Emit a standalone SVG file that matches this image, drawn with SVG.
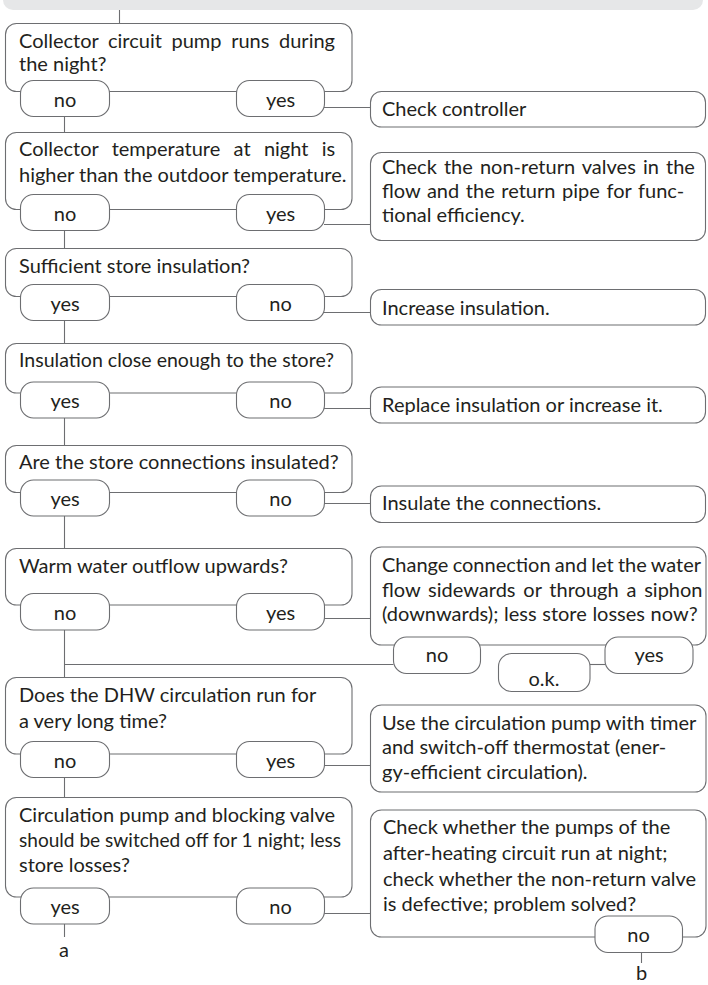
<svg xmlns="http://www.w3.org/2000/svg" width="708" height="985" viewBox="0 0 708 985">
<style>
.b{fill:#fff;stroke:#6d6e71;stroke-width:1.1}
.c{fill:none;stroke:#6d6e71;stroke-width:1.1}
text{font-family:Lato,"Liberation Sans",sans-serif;font-size:20px;fill:#231f20}
.m{text-anchor:middle}
</style>
<rect x="3" y="-15" width="700" height="25" rx="10" fill="#e6e7e8"/>
<g id="connectors">
<path class="c" d="M119.5 10V23.5"/>
<path class="c" d="M64.5 116V132.5"/>
<path class="c" d="M324 107.5H370.5"/>
<path class="c" d="M64.5 231V248.5"/>
<path class="c" d="M324 224.5H370.5"/>
<path class="c" d="M64.5 321V343.5"/>
<path class="c" d="M324 312.5H370.5"/>
<path class="c" d="M64.5 418V445.5"/>
<path class="c" d="M324 408.5H370.5"/>
<path class="c" d="M64.5 516V548.5"/>
<path class="c" d="M324 503.5H370.5"/>
<path class="c" d="M64.5 630V677.5"/>
<path class="c" d="M324 618.5H370.5"/>
<path class="c" d="M393.5 664.5H64.5"/>
<path class="c" d="M590 664.5H605"/>
<path class="c" d="M64.5 777V797.5"/>
<path class="c" d="M324 765.5H370.5"/>
<path class="c" d="M324 913.5H370.5"/>
<path class="c" d="M64.5 924V937"/>
<path class="c" d="M641.5 952V963"/>
</g>
<g id="q1">
<rect class="b" x="5.5" y="23.5" width="346.5" height="68" rx="11"/>
<text x="19" y="48" word-spacing="4.5">Collector circuit pump runs during</text>
<text x="19" y="70.7">the night?</text>
<rect class="b" x="20.5" y="80.5" width="89" height="36" rx="13"/>
<text class="m" x="65" y="106.5">no</text>
<rect class="b" x="236.5" y="80.5" width="88" height="36" rx="13"/>
<text class="m" x="280.5" y="106.5">yes</text>
</g>
<g id="a1">
<rect class="b" x="370.5" y="91.5" width="335" height="35.5" rx="11"/>
<text x="382" y="115.5">Check controller</text>
</g>
<g id="q2">
<rect class="b" x="5.5" y="132.5" width="346.5" height="77" rx="11"/>
<text x="19" y="156" word-spacing="8.2">Collector temperature at night is</text>
<text x="19" y="181.5">higher than the outdoor temperature.</text>
<rect class="b" x="20.5" y="194.5" width="89" height="36" rx="13"/>
<text class="m" x="65" y="220.5">no</text>
<rect class="b" x="236.5" y="194.5" width="88" height="36" rx="13"/>
<text class="m" x="280.5" y="220.5">yes</text>
</g>
<g id="a2">
<rect class="b" x="370.5" y="152.5" width="335" height="88" rx="11"/>
<text x="382" y="174" word-spacing="2">Check the non-return valves in the</text>
<text x="382" y="198" word-spacing="1.5">flow and the return pipe for func-</text>
<text x="382" y="222">tional efficiency.</text>
</g>
<g id="q3">
<rect class="b" x="5.5" y="248.5" width="346.5" height="48" rx="11"/>
<text x="19" y="273">Sufficient store insulation?</text>
<rect class="b" x="20.5" y="284.5" width="89" height="36" rx="13"/>
<text class="m" x="65" y="310.5">yes</text>
<rect class="b" x="236.5" y="284.5" width="88" height="36" rx="13"/>
<text class="m" x="280.5" y="310.5">no</text>
</g>
<g id="a3">
<rect class="b" x="370.5" y="289.5" width="335" height="35.5" rx="11"/>
<text x="382" y="315">Increase insulation.</text>
</g>
<g id="q4">
<rect class="b" x="5.5" y="343.5" width="346.5" height="49.5" rx="11"/>
<text x="19" y="367" textLength="315" lengthAdjust="spacingAndGlyphs">Insulation close enough to the store?</text>
<rect class="b" x="20.5" y="382" width="89" height="36" rx="13"/>
<text class="m" x="65" y="408">yes</text>
<rect class="b" x="236.5" y="382" width="88" height="36" rx="13"/>
<text class="m" x="280.5" y="408">no</text>
</g>
<g id="a4">
<rect class="b" x="370.5" y="387" width="335" height="36" rx="11"/>
<text x="382" y="411.5">Replace insulation or increase it.</text>
</g>
<g id="q5">
<rect class="b" x="5.5" y="445.5" width="346.5" height="47" rx="11"/>
<text x="19" y="469">Are the store connections insulated?</text>
<rect class="b" x="20.5" y="480" width="89" height="36" rx="13"/>
<text class="m" x="65" y="506">yes</text>
<rect class="b" x="236.5" y="480" width="88" height="36" rx="13"/>
<text class="m" x="280.5" y="506">no</text>
</g>
<g id="a5">
<rect class="b" x="370.5" y="486" width="335" height="36.5" rx="11"/>
<text x="382" y="510">Insulate the connections.</text>
</g>
<g id="q6">
<rect class="b" x="5.5" y="548.5" width="346.5" height="56.5" rx="11"/>
<text x="19" y="573">Warm water outflow upwards?</text>
<rect class="b" x="20.5" y="593.5" width="89" height="36.5" rx="13"/>
<text class="m" x="65" y="619.7">no</text>
<rect class="b" x="236.5" y="593.5" width="88" height="36.5" rx="13"/>
<text class="m" x="280.5" y="619.7">yes</text>
</g>
<g id="a6">
<rect class="b" x="370.5" y="547" width="335.5" height="98" rx="11"/>
<text x="382" y="572" word-spacing="-0.9">Change connection and let the water</text>
<text x="382" y="596.7" word-spacing="2.7">flow sidewards or through a siphon</text>
<text x="382" y="621" word-spacing="0.5">(downwards); less store losses now?</text>
<rect class="b" x="393.5" y="637" width="87" height="36.5" rx="13"/>
<text class="m" x="437" y="662">no</text>
<rect class="b" x="605" y="637" width="88" height="36.5" rx="13"/>
<text class="m" x="649" y="662">yes</text>
</g>
<g id="ok">
<rect class="b" x="498.5" y="653.5" width="91.5" height="38" rx="13"/>
<text class="m" x="544" y="686">o.k.</text>
</g>
<g id="q7">
<rect class="b" x="5.5" y="677.5" width="346.5" height="76.5" rx="11"/>
<text x="19" y="702">Does the DHW circulation run for</text>
<text x="19" y="727.5">a very long time?</text>
<rect class="b" x="20.5" y="741.5" width="89" height="36" rx="13"/>
<text class="m" x="65" y="767.5">no</text>
<rect class="b" x="236.5" y="741.5" width="88" height="36" rx="13"/>
<text class="m" x="280.5" y="767.5">yes</text>
</g>
<g id="a7">
<rect class="b" x="370.5" y="705" width="335.5" height="87" rx="11"/>
<text x="382" y="729.5">Use the circulation pump with timer</text>
<text x="382" y="754">and switch-off thermostat (ener-</text>
<text x="382" y="779">gy-efficient circulation).</text>
</g>
<g id="q8">
<rect class="b" x="5.5" y="797.5" width="346.5" height="99.5" rx="11"/>
<text x="19" y="822">Circulation pump and blocking valve</text>
<text x="19" y="847" textLength="322" lengthAdjust="spacingAndGlyphs">should be switched off for 1 night; less</text>
<text x="19" y="872">store losses?</text>
<rect class="b" x="20.5" y="888" width="89" height="36" rx="13"/>
<text class="m" x="65" y="914">yes</text>
<rect class="b" x="236.5" y="888" width="88" height="36" rx="13"/>
<text class="m" x="280.5" y="914">no</text>
</g>
<g id="a8">
<rect class="b" x="370.5" y="810" width="335.5" height="127" rx="11"/>
<text x="383" y="834">Check whether the pumps of the</text>
<text x="383" y="860">after-heating circuit run at night;</text>
<text x="383" y="885.5">check whether the non-return valve</text>
<text x="383" y="911">is defective; problem solved?</text>
<rect class="b" x="595" y="916" width="87.5" height="36.5" rx="13"/>
<text class="m" x="638.5" y="942">no</text>
</g>
<g id="labels">
<text class="m" x="64" y="956.5">a</text>
<text class="m" x="641.5" y="980">b</text>
</g>
</svg>
